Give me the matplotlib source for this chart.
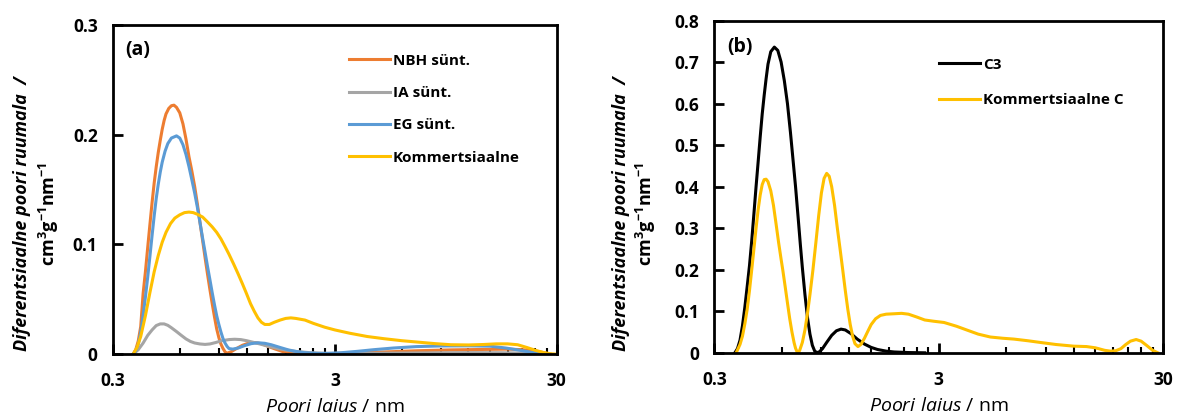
import matplotlib.pyplot as plt
from matplotlib.ticker import FixedLocator, NullFormatter

plt.rcParams['font.family'] = ['Open Sans', 'DejaVu Sans']
plt.rcParams['mathtext.fontset'] = 'custom'
plt.rcParams['mathtext.rm'] = 'Open Sans'
plt.rcParams['mathtext.it'] = 'Open Sans:italic'
plt.rcParams['mathtext.bf'] = 'Open Sans:bold'

# (a) - poorijaotus, pooride laius nm
nbh_x = [0.37, 0.38, 0.39, 0.40, 0.41, 0.42, 0.43, 0.44, 0.45, 0.46, 0.47, 0.48, 0.49, 0.50,
         0.51, 0.52, 0.535, 0.55, 0.565, 0.58, 0.60, 0.62, 0.64, 0.66, 0.68, 0.70, 0.72, 0.74,
         0.76, 0.78, 0.80, 0.82, 0.84, 0.86, 0.88, 0.90, 0.92, 0.94, 0.96, 0.98, 1.02, 1.08,
         1.15, 1.22, 1.3, 1.4, 1.5, 1.62, 1.75, 1.9, 2.1, 2.5, 3.0, 3.5, 4.5, 5.5, 7, 10, 14,
         18, 21, 24, 26, 28]
nbh_y = [0, 0.004, 0.012, 0.025, 0.055, 0.075, 0.097, 0.118, 0.138, 0.156, 0.171, 0.184,
         0.195, 0.205, 0.213, 0.219, 0.224, 0.2265, 0.227, 0.225, 0.22, 0.21, 0.196, 0.18, 0.167,
         0.153, 0.137, 0.12, 0.104, 0.088, 0.073, 0.059, 0.046, 0.034, 0.023, 0.015, 0.009,
         0.005, 0.002, 0.0008, 0.002, 0.005, 0.008, 0.0098, 0.0105, 0.0095, 0.007, 0.0045,
         0.0022, 0.001, 0.0004, 0.0003, 0.0005, 0.0009, 0.0016, 0.0022, 0.003, 0.0038, 0.0042,
         0.0045, 0.004, 0.0028, 0.0015, 0]

ia_x = [0.37, 0.39, 0.41, 0.43, 0.45, 0.47, 0.49, 0.51, 0.53, 0.55, 0.58, 0.61, 0.64, 0.67,
        0.70, 0.74, 0.78, 0.82, 0.87, 0.93, 1.0, 1.06, 1.13, 1.2, 1.3, 1.4, 1.5, 1.65, 1.8, 2.0,
        2.3, 2.7, 3.5, 5, 8, 12, 17, 21, 25, 28]
ia_y = [0, 0.004, 0.010, 0.017, 0.022, 0.026, 0.0275, 0.0275, 0.0262, 0.024, 0.0205, 0.017,
        0.0138, 0.0115, 0.0101, 0.0092, 0.0088, 0.0092, 0.0105, 0.0122, 0.0132, 0.0135, 0.0132,
        0.0122, 0.0105, 0.0088, 0.0072, 0.0052, 0.0037, 0.0024, 0.0013, 0.0007, 0.0005, 0.0008,
        0.0011, 0.0013, 0.0012, 0.0009, 0.0004, 0]

eg_x = [0.37, 0.38, 0.39, 0.40, 0.41, 0.42, 0.43, 0.44, 0.45, 0.46, 0.47, 0.48, 0.49, 0.50,
        0.515, 0.53, 0.55, 0.58, 0.60, 0.62, 0.64, 0.66, 0.68, 0.70, 0.72, 0.74, 0.76, 0.78,
        0.80, 0.82, 0.84, 0.86, 0.88, 0.90, 0.92, 0.94, 0.96, 0.98, 1.0, 1.04, 1.1, 1.18, 1.26,
        1.35, 1.45, 1.55, 1.7, 1.85, 2.0, 2.2, 2.5, 2.8, 3.2, 3.8, 4.5, 5.5, 7, 9, 12, 15, 17.7,
        20, 22.5, 25, 26]
eg_y = [0, 0.003, 0.009, 0.02, 0.035, 0.052, 0.07, 0.089, 0.108, 0.126, 0.142, 0.155, 0.166,
        0.175, 0.185, 0.192, 0.197, 0.199, 0.197, 0.191, 0.182, 0.171, 0.159, 0.147, 0.134,
        0.12, 0.106, 0.093, 0.08, 0.068, 0.056, 0.045, 0.035, 0.027, 0.02, 0.014, 0.01, 0.007,
        0.005, 0.0045, 0.0055, 0.0078, 0.0095, 0.0103, 0.0098, 0.0085, 0.006, 0.0038, 0.0024,
        0.0012, 0.0006, 0.0006, 0.0012, 0.0025, 0.004, 0.0055, 0.0068, 0.0074, 0.0075, 0.0072,
        0.0055, 0.0038, 0.002, 0.0005, 0]

kom_x = [0.37, 0.385, 0.40, 0.42, 0.44, 0.46, 0.48, 0.50, 0.52, 0.545, 0.57, 0.60, 0.63, 0.66,
         0.69, 0.72, 0.76, 0.80, 0.84, 0.88, 0.92, 0.96, 1.0, 1.05, 1.10, 1.15, 1.20, 1.25, 1.30,
         1.35, 1.40, 1.45, 1.52, 1.6, 1.7, 1.8, 1.9, 2.0, 2.2, 2.4, 2.7, 3.0, 3.5, 4.2, 5, 6, 7,
         8.5, 10, 12, 14, 16, 18, 20, 22, 24, 26, 28, 29.5]
kom_y = [0, 0.006, 0.016, 0.035, 0.056, 0.075, 0.09, 0.102, 0.111, 0.119, 0.124, 0.127, 0.129,
         0.1295, 0.129, 0.1275, 0.125, 0.1205, 0.116, 0.111, 0.105, 0.098, 0.091, 0.082, 0.073,
         0.064, 0.055, 0.046, 0.039, 0.033, 0.029, 0.027, 0.027, 0.029, 0.031, 0.0325, 0.033,
         0.0325, 0.031, 0.028, 0.0245, 0.022, 0.019, 0.016, 0.014, 0.0122, 0.011, 0.0095, 0.0085,
         0.0083, 0.0087, 0.0093, 0.0093, 0.0085, 0.006, 0.0035, 0.0015, 0.0003, 0]

# (b)
c3_x = [0.37, 0.38, 0.39, 0.40, 0.41, 0.42, 0.43, 0.44, 0.45, 0.46, 0.47, 0.48, 0.49, 0.50,
        0.51, 0.52, 0.535, 0.555, 0.575, 0.595, 0.615, 0.635, 0.655, 0.675, 0.69, 0.71, 0.725,
        0.74, 0.76, 0.78, 0.80, 0.82, 0.84, 0.86, 0.88, 0.91, 0.95, 1.0, 1.05, 1.10, 1.15, 1.22,
        1.3, 1.4, 1.5, 1.6, 1.75, 1.9, 2.2, 2.6]
c3_y = [0, 0.01, 0.03, 0.065, 0.11, 0.16, 0.21, 0.27, 0.335, 0.40, 0.46, 0.52, 0.575, 0.62,
        0.66, 0.695, 0.725, 0.736, 0.728, 0.70, 0.655, 0.60, 0.53, 0.455, 0.40, 0.32, 0.26,
        0.205, 0.14, 0.085, 0.045, 0.018, 0.004, 0.0005, 0.002, 0.01, 0.025, 0.042, 0.053,
        0.057, 0.055, 0.046, 0.033, 0.021, 0.013, 0.008, 0.004, 0.002, 0.0006, 0]

komc_x = [0.375, 0.39, 0.40, 0.41, 0.42, 0.43, 0.44, 0.45, 0.46, 0.47, 0.48, 0.49, 0.50, 0.51,
          0.52, 0.535, 0.55, 0.565, 0.58, 0.595, 0.605, 0.62, 0.635, 0.65, 0.665, 0.68, 0.69,
          0.70, 0.71, 0.72, 0.74, 0.76, 0.78, 0.80, 0.825, 0.85, 0.875, 0.90, 0.925, 0.95,
          0.975, 1.0, 1.03, 1.06, 1.09, 1.12, 1.15, 1.18, 1.21, 1.24, 1.27, 1.31, 1.35, 1.40,
          1.45, 1.50, 1.57, 1.65, 1.75, 1.9, 2.05, 2.2, 2.4, 2.6, 2.85, 3.17, 3.6, 4.0, 4.5,
          5.1, 5.8, 6.5, 7.5, 8.5, 10, 12, 13.7, 15, 16.5, 17.5, 18.5, 19.5, 20.5, 21.5, 22.8,
          24, 25.5, 27, 28.5]
komc_y = [0, 0.02, 0.04, 0.07, 0.105, 0.15, 0.20, 0.25, 0.30, 0.345, 0.38, 0.405, 0.417,
          0.418, 0.412, 0.39, 0.355, 0.31, 0.265, 0.225, 0.20, 0.16, 0.12, 0.082, 0.05, 0.024,
          0.011, 0.003, 0.0, 0.006, 0.025, 0.055, 0.095, 0.14, 0.20, 0.265, 0.33, 0.385, 0.42,
          0.432, 0.425, 0.40, 0.355, 0.30, 0.25, 0.20, 0.15, 0.105, 0.068, 0.04, 0.022, 0.015,
          0.02, 0.035, 0.052, 0.068, 0.082, 0.09, 0.093, 0.094, 0.095, 0.093, 0.086, 0.079,
          0.076, 0.073, 0.064, 0.055, 0.045, 0.038, 0.035, 0.033, 0.029, 0.025, 0.02, 0.016,
          0.015, 0.012, 0.006, 0.004, 0.005, 0.01, 0.02, 0.028, 0.032, 0.028, 0.017, 0.006, 0]

minor_ticks = [0.6, 0.9, 1.2, 1.5, 1.8, 2.1, 2.4, 2.7, 6, 9, 12, 15, 18, 21, 24, 27]

fig = plt.figure(figsize=(11.77, 4.19), dpi=100)
ax1 = fig.add_axes([0.096, 0.155, 0.377, 0.785])
ax2 = fig.add_axes([0.607, 0.158, 0.381, 0.793])


def stiil(ax, ymax, yticks):
    ax.set_xscale('log')
    ax.set_xlim(0.3, 30)
    ax.set_ylim(0, ymax)
    ax.xaxis.set_major_locator(FixedLocator([0.3, 3, 30]))
    ax.xaxis.set_minor_locator(FixedLocator(minor_ticks))
    ax.xaxis.set_minor_formatter(NullFormatter())
    ax.set_xticklabels(['0.3', '3', '30'])
    ax.set_yticks(yticks)
    ax.set_yticklabels(['0' if v == 0 else f'{v:.1f}' for v in yticks])
    ax.tick_params(axis='x', which='major', direction='in', length=7, width=2, pad=13,
                   labelsize=12.5)
    ax.tick_params(axis='x', which='minor', direction='in', length=4, width=1.5)
    ax.tick_params(axis='y', which='major', direction='in', length=7, width=2, pad=11,
                   labelsize=12.5)
    for lab in ax.get_xticklabels() + ax.get_yticklabels():
        lab.set_fontweight('bold')
    for s in ax.spines.values():
        s.set_linewidth(2)
    ax.set_xlabel(r'$\mathit{Poori\ laius}$ / nm', fontsize=14, labelpad=6)


lw = 2.2
ax1.plot(nbh_x, nbh_y, color='#ED7D31', lw=lw, label='NBH sünt.')
ax1.plot(ia_x, ia_y, color='#A5A5A5', lw=lw, label='IA sünt.')
ax1.plot(eg_x, eg_y, color='#5B9BD5', lw=lw, label='EG sünt.')
ax1.plot(kom_x, kom_y, color='#FFC000', lw=lw, label='Kommertsiaalne')
stiil(ax1, 0.3, [0, 0.1, 0.2, 0.3])
ax1.legend(loc='upper left', bbox_to_anchor=(0.5, 0.955), frameon=False,
           handlelength=2.7, handletextpad=0.2, labelspacing=1.2,
           prop={'weight': 'bold', 'size': 11})
ax1.text(0.028, 0.925, '(a)', transform=ax1.transAxes, fontsize=14, fontweight='bold',
         va='center')

ax2.plot(c3_x, c3_y, color='black', lw=lw, label='C3')
ax2.plot(komc_x, komc_y, color='#FFC000', lw=lw, label='Kommertsiaalne C')
stiil(ax2, 0.8, [0, 0.1, 0.2, 0.3, 0.4, 0.5, 0.6, 0.7, 0.8])
ax2.legend(loc='upper left', bbox_to_anchor=(0.47, 0.93), frameon=False,
           handlelength=2.7, handletextpad=0.2, labelspacing=1.4,
           prop={'weight': 'bold', 'size': 11})
ax2.text(0.028, 0.92, '(b)', transform=ax2.transAxes, fontsize=14, fontweight='bold',
         va='center')

# kahe reaga y-telje nimi
for x1, x2 in [(0.019, 0.042), (0.528, 0.549)]:
    fig.text(x1, 0.49, 'Diferentsiaalne poori ruumala  /', rotation=90, ha='center',
             va='center', fontsize=13, fontstyle='italic', fontweight='bold')
    fig.text(x2, 0.49, r'$\mathbf{cm^{3}g^{-1}nm^{-1}}$', rotation=90, ha='center',
             va='center', fontsize=13)

fig.savefig('out.png', dpi=100)
